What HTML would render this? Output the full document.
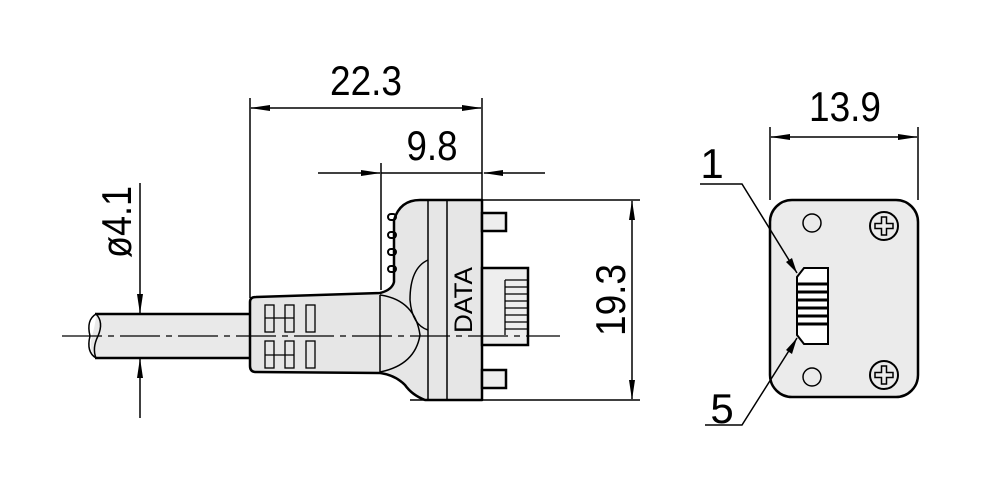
<!DOCTYPE html>
<html><head><style>html,body{margin:0;padding:0;background:#fff}</style></head><body>
<svg width="1000" height="478" viewBox="0 0 1000 478" xmlns="http://www.w3.org/2000/svg" font-family="Liberation Sans, sans-serif">
<defs>
<marker id="a" markerWidth="20" markerHeight="8" refX="19" refY="4" orient="auto" markerUnits="userSpaceOnUse"><path d="M0,1 L20,4 L0,7 Z" fill="#000"/></marker>
</defs>
<g stroke="#000" stroke-width="1.5" fill="none">
<!-- 22.3 -->
<line x1="250" y1="98" x2="250" y2="298"/>
<line x1="482" y1="98" x2="482" y2="200"/>
<line x1="366" y1="108" x2="251" y2="108" marker-end="url(#a)"/>
<line x1="366" y1="108" x2="481" y2="108" marker-end="url(#a)"/>
<!-- 9.8 -->
<line x1="381" y1="163" x2="381" y2="290"/>
<line x1="318" y1="173" x2="380" y2="173" marker-end="url(#a)"/>
<line x1="545" y1="173" x2="484" y2="173" marker-end="url(#a)"/>
<line x1="381" y1="173" x2="482" y2="173"/>
<!-- 19.3 -->
<line x1="483" y1="200" x2="640" y2="200"/>
<line x1="410" y1="400" x2="640" y2="400"/>
<line x1="632" y1="300" x2="632" y2="201" marker-end="url(#a)"/>
<line x1="632" y1="300" x2="632" y2="399" marker-end="url(#a)"/>
<!-- 4.1 -->
<line x1="140" y1="183" x2="140" y2="313" marker-end="url(#a)"/>
<line x1="140" y1="418" x2="140" y2="359" marker-end="url(#a)"/>
<line x1="140" y1="313" x2="140" y2="359"/>
</g>
<!-- cable -->
<path d="M96,314 L250,314 L250,358 L96,358 Q88,350 92,336 Q96,322 96,314 Z" fill="#e9e9e9" stroke="none"/>
<g stroke="#000" fill="none">
<line x1="95" y1="314" x2="250" y2="314" stroke-width="2.5"/>
<line x1="95" y1="358" x2="250" y2="358" stroke-width="2.5"/>
<path d="M96,314 Q86,320 90,336 Q86,352 96,358 M96,314 Q104,322 98,336 Q92,348 96,358" stroke-width="1.5"/>
</g>
<!-- plug body -->
<path d="M250,302 Q250,297 256,297 L380,293 Q392,290 394,282 L394,220 Q400,200 420,200 L482,200 L482,400 L425,400 Q412,395 405,385 Q395,375 380,373 L256,372 Q250,372 250,366 Z" fill="#e6e6e6" stroke="#000" stroke-width="2.5" stroke-linejoin="round"/>
<g stroke="#000" stroke-width="1.5" fill="none">
<line x1="428" y1="201" x2="428" y2="399"/>
<line x1="447" y1="201" x2="447" y2="399"/>
<line x1="380" y1="295" x2="380" y2="372"/>
<path d="M380,295 Q415,300 420,335 Q415,365 380,372"/>
<path d="M428,260 Q410,268 410,300 Q412,325 428,330"/>
<g stroke-width="1.3">
<rect x="265" y="305" width="9" height="27"/><rect x="265" y="341" width="9" height="27"/>
<rect x="285" y="305" width="9" height="27"/><rect x="285" y="341" width="9" height="27"/>
<rect x="306" y="305" width="9" height="27"/><rect x="306" y="341" width="9" height="27"/>
<line x1="265" y1="318" x2="294" y2="318"/><line x1="265" y1="355" x2="294" y2="355"/>
</g>
<g stroke-width="2">
<rect x="388" y="214" width="8" height="6" rx="3"/>
<rect x="388" y="232" width="8" height="6" rx="3"/>
<rect x="388" y="249" width="8" height="6" rx="3"/>
<rect x="388" y="266" width="8" height="6" rx="3"/>
</g>
<!-- pins -->
<rect x="482" y="213" width="24" height="18" fill="#eee" stroke-width="2.5"/>
<rect x="482" y="370" width="24" height="18" fill="#eee" stroke-width="2.5"/>
<rect x="482" y="268" width="46" height="77" fill="#eee" stroke-width="2.5"/>
<g stroke-width="1.3">
<line x1="505" y1="280" x2="527" y2="280"/><line x1="505" y1="287" x2="527" y2="287"/>
<line x1="505" y1="294" x2="527" y2="294"/><line x1="505" y1="301" x2="527" y2="301"/>
<line x1="505" y1="308" x2="527" y2="308"/><line x1="505" y1="315" x2="527" y2="315"/>
<line x1="505" y1="322" x2="527" y2="322"/><line x1="505" y1="329" x2="527" y2="329"/>
<line x1="505" y1="280" x2="505" y2="335"/>
</g>
<!-- centerline -->
<line x1="62" y1="336" x2="560" y2="336" stroke-width="1.2" stroke-dasharray="40,6,6,6"/>
</g>
<text transform="translate(464,300) rotate(-90)" text-anchor="middle" font-size="25" dominant-baseline="central" textLength="66" lengthAdjust="spacingAndGlyphs">DATA</text>
<!-- right view -->
<g stroke="#000" fill="none" stroke-width="1.5">
<line x1="770" y1="127" x2="770" y2="200"/>
<line x1="918" y1="127" x2="918" y2="200"/>
<line x1="845" y1="137" x2="771" y2="137" marker-end="url(#a)"/>
<line x1="845" y1="137" x2="917" y2="137" marker-end="url(#a)"/>
<rect x="770" y="200" width="148" height="197" rx="22" fill="#ebebeb" stroke-width="2.5"/>
<circle cx="812" cy="223" r="9"/><circle cx="812" cy="377" r="9"/>
<circle cx="884" cy="226" r="14" stroke-width="2"/><circle cx="884" cy="375" r="14" stroke-width="2"/>
<path d="M875,223.5 h6.5 v-6.5 h5 v6.5 h6.5 v5 h-6.5 v6.5 h-5 v-6.5 h-6.5 Z" stroke-width="1.5"/>
<path d="M875,372.5 h6.5 v-6.5 h5 v6.5 h6.5 v5 h-6.5 v6.5 h-5 v-6.5 h-6.5 Z" stroke-width="1.5"/>
<path d="M804,268 L828,268 L828,344 L804,344 L797,335 L797,277 Z" fill="#fff" stroke-width="2"/>
<g stroke-width="3"><line x1="797" y1="284" x2="828" y2="284"/><line x1="797" y1="292" x2="828" y2="292"/><line x1="797" y1="300" x2="828" y2="300"/><line x1="797" y1="308" x2="828" y2="308"/><line x1="797" y1="316" x2="828" y2="316"/><line x1="797" y1="324" x2="828" y2="324"/></g>
<polyline points="700,184 742,184 797,273"/>
<polyline points="705,425 742,425 797,338"/>
</g>
<polygon points="797,273 786,262 792,258" fill="#000"/>
<polygon points="797,338 786,350 792,354" fill="#000"/>
<g font-size="42" fill="#000">
<text x="366" y="95" text-anchor="middle" textLength="72" lengthAdjust="spacingAndGlyphs">22.3</text>
<text x="432" y="160" text-anchor="middle" textLength="51" lengthAdjust="spacingAndGlyphs">9.8</text>
<text x="845" y="121" text-anchor="middle" textLength="72" lengthAdjust="spacingAndGlyphs">13.9</text>
<text transform="translate(625,300) rotate(-90)" text-anchor="middle" textLength="72" lengthAdjust="spacingAndGlyphs">19.3</text>
<text transform="translate(131,222) rotate(-90)" text-anchor="middle" textLength="72" lengthAdjust="spacingAndGlyphs">ø4.1</text>
<text x="712" y="178" text-anchor="middle">1</text>
<text x="722" y="423" text-anchor="middle">5</text>
</g>
</svg>
</body></html>
